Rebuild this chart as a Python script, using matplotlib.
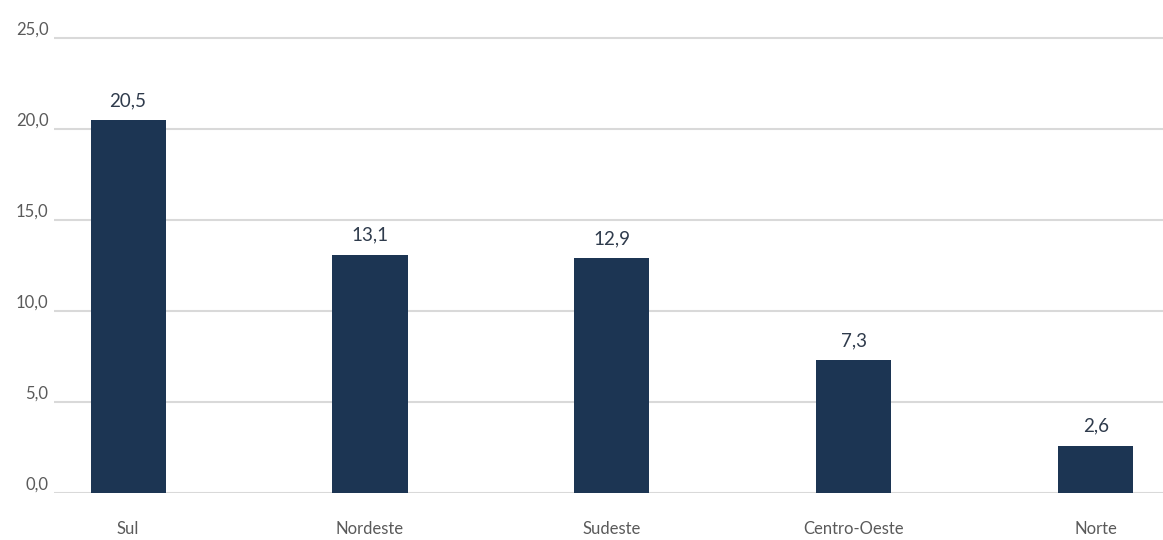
import numpy as np
import matplotlib.pyplot as plt

regions = ['Sul', 'Nordeste', 'Sudeste', 'Centro-Oeste', 'Norte']
values = [20.5, 13.1, 12.9, 7.3, 2.6]
yticks = [0, 5, 10, 15, 20, 25]

plt.rcParams['font.family'] = ['Lato', 'DejaVu Sans']

fig = plt.figure(figsize=(11.63, 5.4), dpi=100)
ax = fig.add_axes([0.0464, 0.087, 0.9536, 0.8528])

x = np.arange(len(regions))
ax.bar(x, values, width=0.31, color='#1c3553', zorder=3)
for xi, v in zip(x, values):
    ax.text(xi, v + 0.6, f'{v:.1f}'.replace('.', ','), ha='center', va='bottom',
            fontsize=13.5, color='#2f3b4c')

ax.set_xlim(-0.306, 4.277)
ax.set_ylim(0, 25.3)
ax.set_yticks(yticks)
ax.set_yticklabels([f'{t:.1f}'.replace('.', ',') for t in yticks])
ax.set_xticks(x)
ax.set_xticklabels(regions)
ax.tick_params(axis='both', length=0, labelsize=12, colors='#5a5a5a')
ax.tick_params(axis='x', pad=20)
ax.tick_params(axis='y', pad=4)
for lbl in ax.get_yticklabels():
    lbl.set_verticalalignment('bottom')

ax.grid(axis='y', color='#d9d9d9', lw=1.5, zorder=0)
for s in ax.spines.values():
    s.set_visible(False)

fig.savefig('out.png', dpi=100)
